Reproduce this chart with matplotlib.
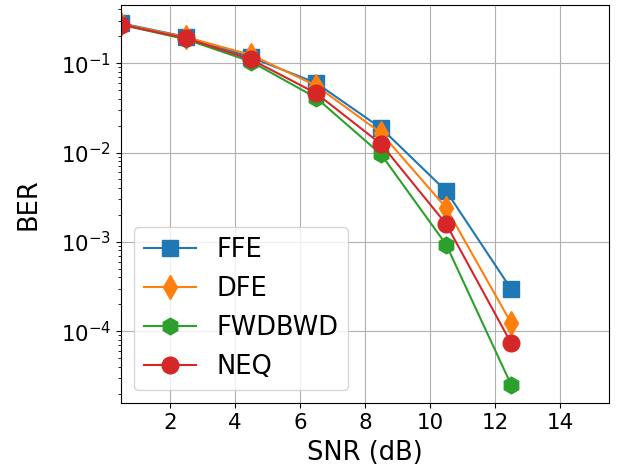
import matplotlib
matplotlib.use('Agg')
import matplotlib.pyplot as plt

snr = [0.5, 2.5, 4.5, 6.5, 8.5, 10.5, 12.5]
ber_ffe = [0.28, 0.197, 0.116, 0.060, 0.0187, 0.0037, 2.95e-4]
ber_dfe = [0.275, 0.195, 0.124, 0.056, 0.0165, 0.0024, 1.23e-4]
ber_fwdbwd = [0.27, 0.185, 0.104, 0.041, 0.0095, 9.3e-4, 2.5e-5]
ber_neq = [0.27, 0.19, 0.110, 0.046, 0.0124, 0.00158, 7.3e-5]

labels = ['FFE', 'DFE', 'FWDBWD', 'NEQ']
markers = ['s', 'd', 'h', 'o']

fig = plt.figure(figsize=(6.18, 4.70), dpi=100)
ax = fig.add_axes([0.196, 0.1426, 0.789, 0.8464])

for y, lab, m in zip([ber_ffe, ber_dfe, ber_fwdbwd, ber_neq], labels, markers):
    ax.semilogy(snr, y, marker=m, markersize=12, label=lab)

ax.set_xlim(0.5, 15.5)
ax.set_xticks([2, 4, 6, 8, 10, 12, 14])
ax.grid(True)
ax.tick_params(labelsize=15.4)
ax.set_xlabel('SNR (dB)', fontsize=18.5, labelpad=5)
ax.set_ylabel('BER', fontsize=18.5, labelpad=14)
ax.legend(loc='lower left', fontsize=18.5)

fig.savefig('out.png', dpi=100)
